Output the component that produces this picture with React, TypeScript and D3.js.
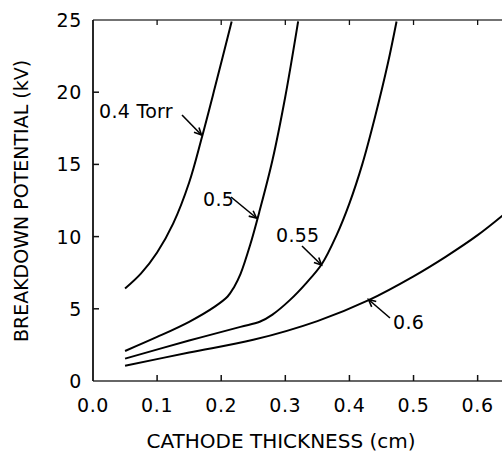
import React from "react";
import * as d3 from "d3";

const xTicks = [0.0, 0.1, 0.2, 0.3, 0.4, 0.5, 0.6];
const yTicks = [0, 5, 10, 15, 20, 25];

const curve04: [number, number][] = [
  [0.05, 6.4], [0.075, 7.45], [0.1, 8.9], [0.125, 10.9], [0.15, 13.75],
  [0.17, 16.9], [0.19, 20.3], [0.2163, 24.9],
];
const curve05: [number, number][] = [
  [0.05, 2.08], [0.1, 3.05], [0.15, 4.1], [0.19, 5.15], [0.21, 5.85], [0.22, 6.5],
  [0.23, 7.4], [0.245, 9.4], [0.26, 11.8], [0.28, 15.3], [0.3, 19.7], [0.32, 24.9],
];
const curve055: [number, number][] = [
  [0.05, 1.55], [0.15, 2.8], [0.23, 3.75], [0.26, 4.1], [0.28, 4.6], [0.307, 5.6],
  [0.333, 6.8], [0.357, 8.1], [0.38, 10.1], [0.4, 12.3], [0.42, 15.0], [0.44, 18.3],
  [0.46, 22.0], [0.4735, 24.9],
];
const curve06: [number, number][] = [
  [0.05, 1.06], [0.15, 1.97], [0.25, 2.85], [0.35, 4.15], [0.43, 5.6], [0.5, 7.25],
  [0.55, 8.6], [0.6, 10.1], [0.64, 11.5],
];

const series = [curve04, curve05, curve055, curve06];

const labels = ["0.4 Torr", "0.5", "0.55", "0.6"];

const W = 502;
const H = 452;
const FONT = "'DejaVu Sans', sans-serif";

export default function App() {
  const x = d3.scaleLinear().domain([0, 0.638]).range([93, 502]);
  const y = d3.scaleLinear().domain([0, 25]).range([381, 20]);
  const line = d3
    .line<[number, number]>()
    .x((d) => x(d[0]))
    .y((d) => y(d[1]))
    .curve(d3.curveCatmullRom.alpha(0.5));

  // annotation placements (text pos + arrow from/to in pixels)
  const ann = [
    { tx: 99, ty: 118, ax1: 182, ay1: 115, ax2: 201.5, ay2: 135 },
    { tx: 203, ty: 206, ax1: 231, ay1: 197, ax2: 256.5, ay2: 218 },
    { tx: 276, ty: 241.5, ax1: 302, ay1: 246, ax2: 321.5, ay2: 265 },
    { tx: 393, ty: 329, ax1: 390, ay1: 318, ax2: 368.5, ay2: 299.5 },
  ];

  const head = (x1: number, y1: number, x2: number, y2: number) => {
    const ang = Math.atan2(y2 - y1, x2 - x1);
    const L = 8;
    const a = 0.45;
    const p1 = [x2 - L * Math.cos(ang - a), y2 - L * Math.sin(ang - a)];
    const p2 = [x2 - L * Math.cos(ang + a), y2 - L * Math.sin(ang + a)];
    return `M${p1[0]},${p1[1]}L${x2},${y2}L${p2[0]},${p2[1]}`;
  };

  return (
    <svg
      width={W}
      height={H}
      style={{ position: "absolute", left: 0, top: 0, background: "#fff" }}
      fontFamily={FONT}
    >
      <defs>
        <clipPath id="plot">
          <rect x={93} y={y(25)} width={W - 93} height={y(0) - y(25)} />
        </clipPath>
      </defs>
      {/* frame */}
      <line x1={93} x2={W} y1={y(25)} y2={y(25)} stroke="#444" strokeWidth={1.5} />
      <line x1={93} x2={W} y1={y(0)} y2={y(0)} stroke="#333" strokeWidth={1.6} />
      <line x1={93} x2={93} y1={y(25)} y2={y(0)} stroke="#111" strokeWidth={1.8} />

      {/* ticks */}
      {xTicks.slice(1).map((t) => (
        <g key={"xt" + t}>
          <line x1={x(t)} x2={x(t)} y1={y(0)} y2={y(0) - 6} stroke="#111" strokeWidth={1.5} />
          <line x1={x(t)} x2={x(t)} y1={y(25)} y2={y(25) + 5} stroke="#111" strokeWidth={1.3} />
        </g>
      ))}
      {yTicks.slice(1, -1).map((t) => (
        <line key={"yt" + t} x1={93} x2={99} y1={y(t)} y2={y(t)} stroke="#111" strokeWidth={1.5} />
      ))}

      {/* tick labels */}
      {xTicks.map((t) => (
        <text
          key={"xl" + t}
          x={x(t)}
          y={411.5}
          textAnchor="middle"
          fontSize={19}
          letterSpacing={0.6}
          fill="#000"
        >
          {t.toFixed(1)}
        </text>
      ))}
      {yTicks.map((t) => (
        <text
          key={"yl" + t}
          x={82}
          y={y(t) + 7}
          textAnchor="end"
          fontSize={19}
          letterSpacing={0.6}
          fill="#000"
        >
          {t}
        </text>
      ))}

      {/* axis titles */}
      <text x={281} y={448} textAnchor="middle" fontSize={20} fill="#000">
        CATHODE THICKNESS (cm)
      </text>
      <text
        transform="translate(28,201) rotate(-90)"
        textAnchor="middle"
        fontSize={19}
        fill="#000"
      >
        BREAKDOWN POTENTIAL (kV)
      </text>

      {/* curves */}
      <g clipPath="url(#plot)">
        {series.map((s, i) => (
          <path key={"c" + i} d={line(s) || ""} fill="none" stroke="#000" strokeWidth={2} />
        ))}
      </g>

      {/* annotations */}
      {labels.map((lab, i) => {
        const a = ann[i];
        return (
          <g key={"a" + i}>
            <text x={a.tx} y={a.ty} fontSize={19} letterSpacing={0.3} fill="#000">
              {lab}
            </text>
            <line x1={a.ax1} y1={a.ay1} x2={a.ax2} y2={a.ay2} stroke="#000" strokeWidth={1.6} />
            <path d={head(a.ax1, a.ay1, a.ax2, a.ay2)} fill="none" stroke="#000" strokeWidth={1.6} />
          </g>
        );
      })}
    </svg>
  );
}
